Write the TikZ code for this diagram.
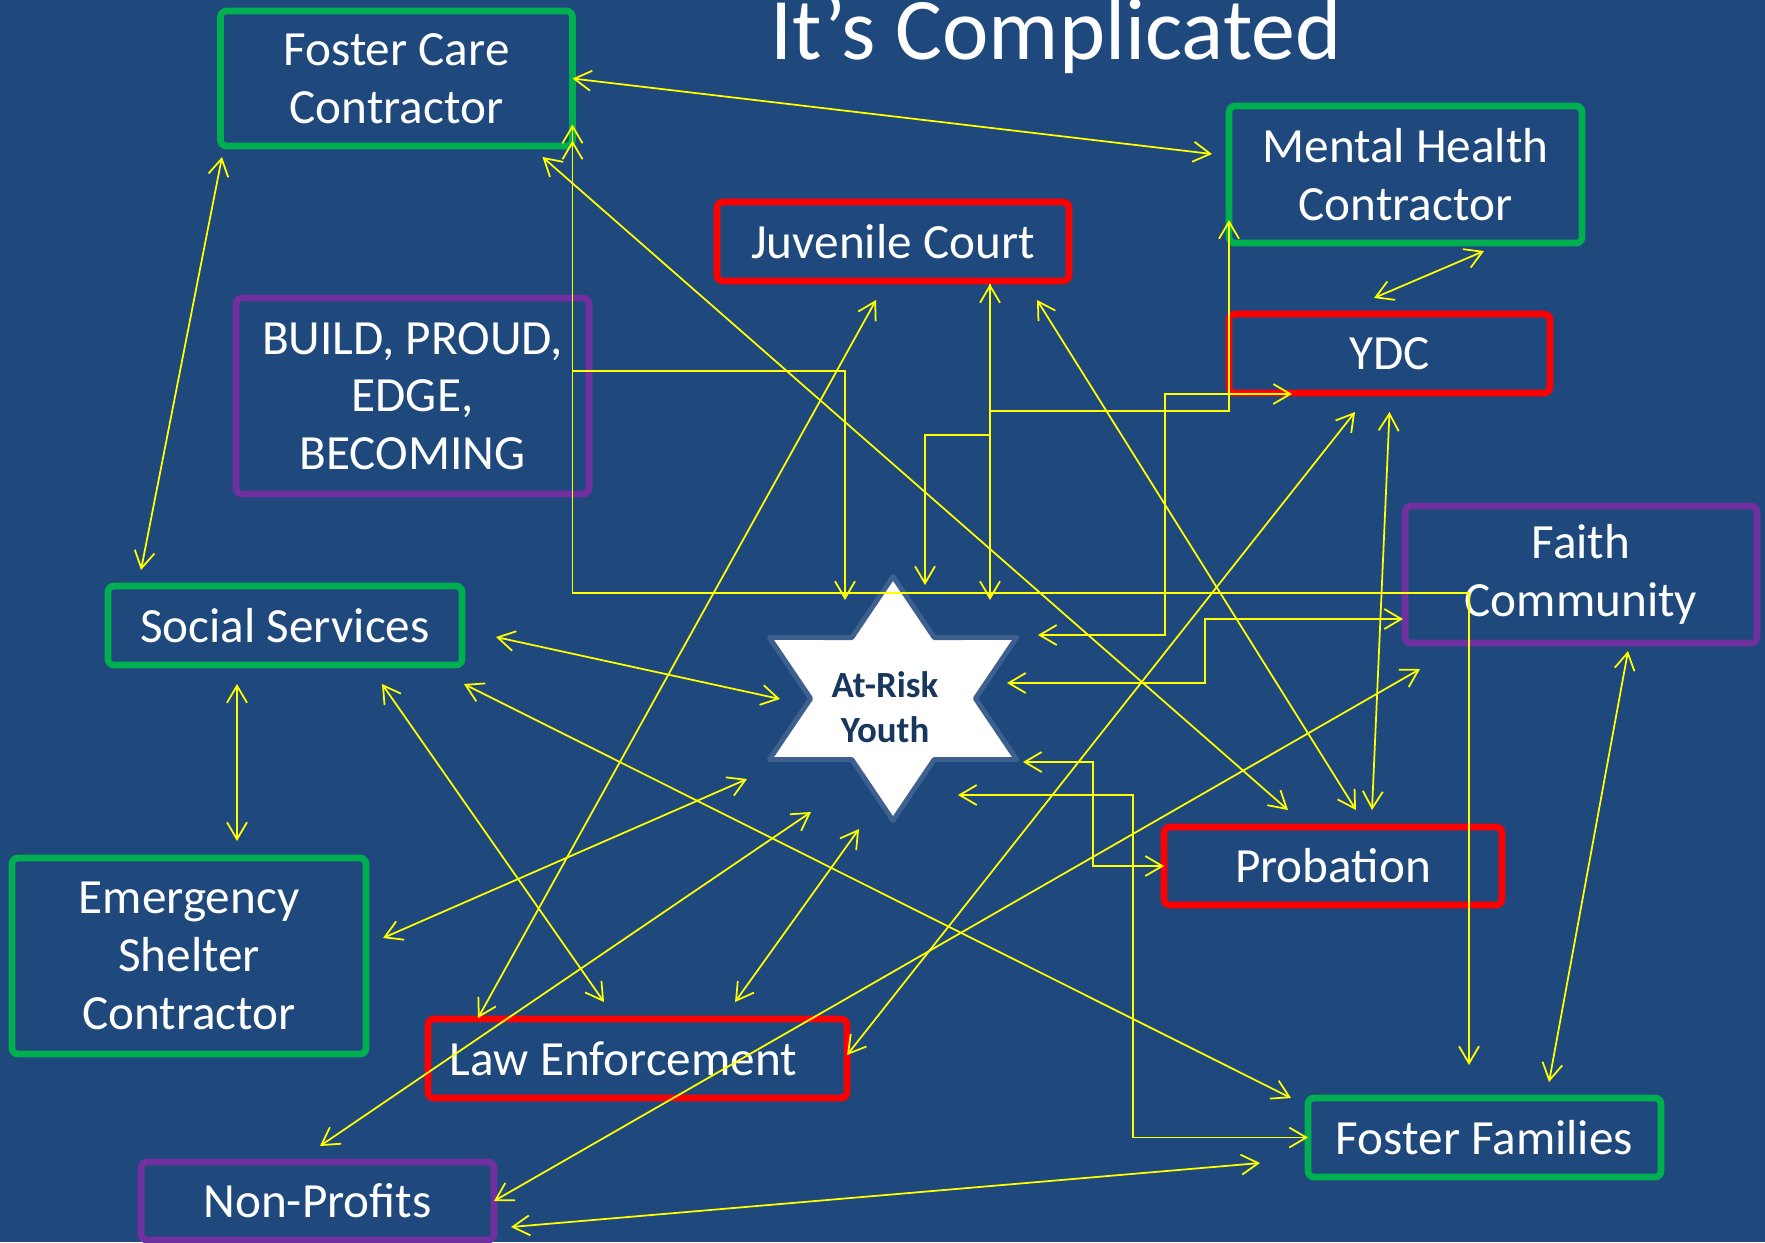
\documentclass[tikz,border=0pt]{standalone}
\usepackage{fontspec}
\setmainfont{Carlito}
\usetikzlibrary{arrows.meta}
\definecolor{slide}{RGB}{31,73,125}
\definecolor{boxgreen}{RGB}{0,176,80}
\definecolor{boxred}{RGB}{255,0,0}
\definecolor{boxpurple}{RGB}{112,48,160}
\definecolor{linkyellow}{RGB}{255,255,0}
\definecolor{starrim}{RGB}{62,96,145}
\definecolor{startext}{RGB}{23,55,94}
\tikzset{
    agency/.style={draw,line width=1.9pt,rounded corners=0.6mm,text=white,align=center,
        outer sep=0pt,inner sep=0pt,font=\fontsize{14}{16.4}\selectfont},
    greenbox/.style={agency,draw=boxgreen},
    redbox/.style={agency,draw=boxred},
    purplebox/.style={agency,draw=boxpurple},
    arystar/.style={fill=white,draw=starrim,line width=1.4pt,line join=round},
    rel/.style={draw=linkyellow,line width=0.5pt},
    >={Straight Barb[length=1.7mm,width=2mm]}
}
\begin{document}
\begin{tikzpicture}[x=0.1mm,y=-0.1mm]
    \useasboundingbox (0,0) rectangle (1765,1242);
    \fill[slide] (0,0) rectangle (1765,1242);
    \node[anchor=base,text=white,font=\fontsize{25}{30}\selectfont] (title) at (1056,59) {It’s Complicated};
    \coordinate (ary) at (893,698.5);
    \begin{scope}[shift={(ary)},xscale=1.17]
        \draw[arystar] (90:122) \foreach \a in {120,180,...,420} {-- (\a:70.4) -- ({\a+30}:122)} -- cycle;
    \end{scope}
    \node[text=startext,align=center,font=\bfseries\fontsize{10.5}{12.75}\selectfont] (arylbl) at ([shift={(-8,9)}]ary) {At-Risk\\Youth};
    \node[greenbox,minimum width=35.2mm,minimum height=13.5mm] (fcc) at (396.5,78.5) {Foster Care\\Contractor};
    \node[greenbox,minimum width=35.3mm,minimum height=13.7mm] (mhc) at (1405.5,174.5) {Mental Health\\Contractor};
    \node[redbox,minimum width=35.2mm,minimum height=7.9mm] (jc) at (893,241.5) {Juvenile Court};
    \node[redbox,minimum width=32.1mm,minimum height=7.9mm] (ydc) at (1389.5,353.5) {YDC};
    \node[purplebox,minimum width=35.3mm,minimum height=19.6mm] (build) at (412.5,396) {BUILD, PROUD,\\EDGE,\\BECOMING};
    \node[purplebox,minimum width=35.2mm,minimum height=13.7mm] (fc) at (1581,574.5) {Faith\\Community};
    \node[greenbox,minimum width=35.4mm,minimum height=7.9mm] (ss) at (285,625.5) {Social Services};
    \node[greenbox,minimum width=35.4mm,minimum height=19.6mm] (esc) at (189,956) {Emergency\\Shelter\\Contractor};
    \node[redbox,minimum width=33.8mm,minimum height=7.8mm] (prob) at (1333,866) {Probation};
    \node[redbox,minimum width=41.9mm,minimum height=7.9mm] (le) at (637.5,1058.5) {Law Enforcement\hspace{2.8mm}};
    \node[greenbox,minimum width=35.3mm,minimum height=7.9mm] (ff) at (1484.5,1137.5) {Foster Families};
    \node[purplebox,minimum width=35.3mm,minimum height=7.8mm] (nonp) at (317.5,1201) {Non-Profits};
    \draw[rel,<->] (fcc.east) -- ([shift={(-17,-20.5)}]mhc.west);
    \draw[rel,<->] ([shift={(1.5,11)}]fcc.south west) -- ([shift={(33,-16)}]ss.north west);
    \draw[rel,<->] ([shift={(-30,11)}]fcc.south east) -- ([shift={(-45,-17)}]prob.north);
    \draw[rel,<->] ([shift={(0,46)}]fcc.east) -- ++(0,468.5) -| ([shift={(-15.5,-33)}]ff.north);
    \draw[rel,<->] ([shift={(0,62)}]fcc.east) -- ++(0,230.5) -| ([shift={(-48,-98.5)}]ary);
    \draw[rel,<->] ([shift={(78.5,8)}]mhc.south) -- ([shift={(-15.5,-16)}]ydc.north);
    \draw[rel,<->] ([shift={(97,3)}]jc.south) -- ([shift={(97,-98.5)}]ary);
    \draw[rel,->] ([shift={(97,3)}]jc.south) -- ++(0,127) -| ([shift={(0,-23)}]mhc.south west);
    \draw[rel,->] ([shift={(97,3)}]jc.south) -- ++(0,151) -| ([shift={(32,-113.5)}]ary);
    \draw[rel,<->] ([shift={(145,-63.5)}]ary) -- ++(127,0) |- ([shift={(63,1)}]ydc.south west);
    \draw[rel,<->] ([shift={(114,-15.5)}]ary) -- ++(198,0) |- ([shift={(-2,44.5)}]fc.west);
    \draw[rel,<->] ([shift={(130,63.5)}]ary) -- ++(70,0) |- (prob.west);
    \draw[rel,<->] ([shift={(65,96.5)}]ary) -- ++(175,0) |- (ff.west);
    \draw[rel,<->] ([shift={(34,11.5)}]ss.east) -- ([shift={(-113,0.5)}]ary);
    \draw[rel,<->] ([shift={(-48,19)}]ss.south) -- ([shift={(48,-17)}]esc.north);
    \draw[rel,<->] ([shift={(97,19)}]ss.south) -- ([shift={(-33.5,-17)}]le.north);
    \draw[rel,<->] ([shift={(2,19)}]ss.south east) -- ([shift={(-17,0)}]ff.north west);
    \draw[rel,<->] ([shift={(17,-18)}]esc.east) -- ([shift={(-146,80.5)}]ary);
    \draw[rel,<->] ([shift={(2.5,-16)}]nonp.north) -- ([shift={(-82,113.5)}]ary);
    \draw[rel,<->] ([shift={(97.5,-17)}]le.north) -- ([shift={(-34,130.5)}]ary);
    \draw[rel,<->] ([shift={(50,-1)}]le.north west) -- ([shift={(-17,19)}]jc.south);
    \draw[rel,<->] ([shift={(0,-3.5)}]le.east) -- ([shift={(-34.5,19)}]ydc.south);
    \draw[rel,<->] (nonp.east) -- ([shift={(15,26)}]fc.south west);
    \draw[rel,<->] ([shift={(17,26)}]nonp.east) -- ([shift={(-48,25.5)}]ff.west);
    \draw[rel,<->] ([shift={(-32,19)}]jc.south east) -- ([shift={(23,-17)}]prob.north);
    \draw[rel,<->] ([shift={(0,19)}]ydc.south) -- ([shift={(39,-17)}]prob.north);
    \draw[rel,<->] ([shift={(47,8)}]fc.south) -- ([shift={(64.5,-16)}]ff.north);
\end{tikzpicture}
\end{document}
